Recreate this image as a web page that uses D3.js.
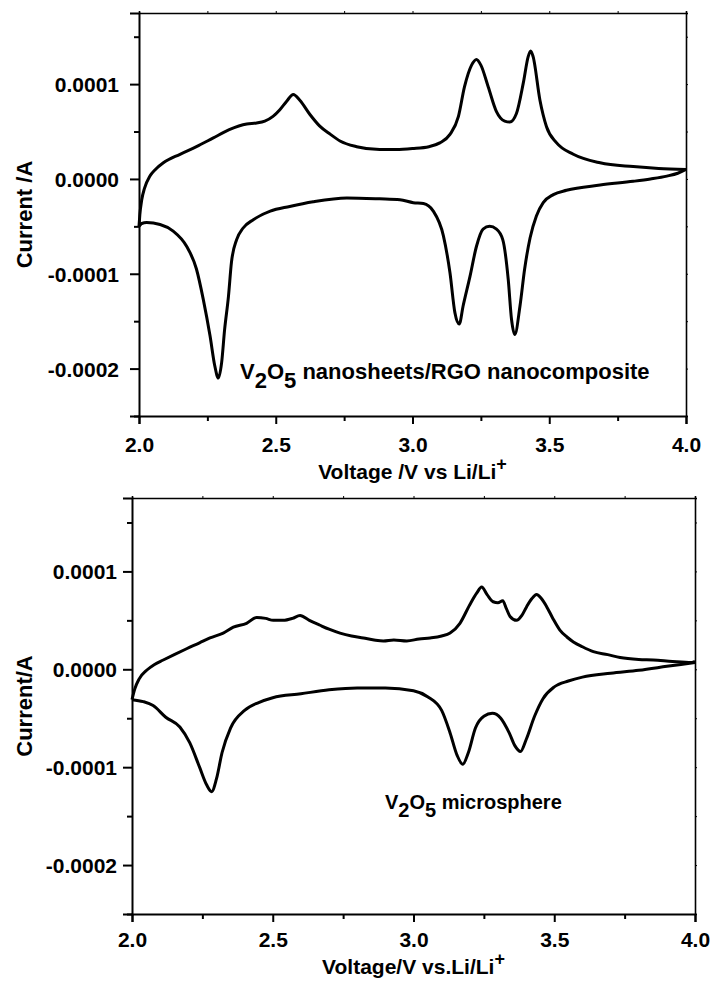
<!DOCTYPE html>
<html>
<head>
<meta charset="utf-8">
<script src="https://cdn.jsdelivr.net/npm/d3@7"></script>
<style>
  html, body { margin: 0; padding: 0; background: #fff; }
  svg { display: block; }
  text { font-family: "Liberation Sans", Arial, sans-serif; font-weight: bold; fill: #000; }
</style>
</head>
<body>
<svg id="fig" width="711" height="983"></svg>
<script>
// Cyclic voltammograms, current in units of 1e-4 A (scaled to A when drawn)

// --- V2O5 nanosheets/RGO nanocomposite ---
const topAnodicV = [2.000, 2.003, 2.010, 2.020, 2.040, 2.060, 2.089, 2.150, 2.210, 2.270, 2.330, 2.394, 2.430, 2.460, 2.490, 2.515, 2.540, 2.564, 2.588, 2.625, 2.660, 2.700, 2.735, 2.796, 2.880, 2.940, 3.000, 3.060, 3.100, 3.137, 3.168, 3.190, 3.216, 3.234, 3.250, 3.277, 3.307, 3.337, 3.356, 3.380, 3.405, 3.423, 3.432, 3.441, 3.466, 3.490, 3.527, 3.588, 3.686, 3.807, 3.900, 4.000];
const topAnodicI = [-0.50, -0.38, -0.22, -0.10, 0.03, 0.10, 0.17, 0.26, 0.34, 0.43, 0.52, 0.58, 0.59, 0.61, 0.66, 0.73, 0.82, 0.89, 0.83, 0.68, 0.56, 0.47, 0.40, 0.34, 0.31, 0.31, 0.32, 0.34, 0.38, 0.47, 0.66, 0.97, 1.20, 1.26, 1.20, 0.97, 0.71, 0.61, 0.60, 0.69, 1.01, 1.29, 1.35, 1.29, 0.83, 0.55, 0.38, 0.26, 0.17, 0.13, 0.11, 0.10];

const topCathodicV = [2.000, 2.010, 2.028, 2.077, 2.125, 2.174, 2.210, 2.235, 2.260, 2.277, 2.290, 2.302, 2.313, 2.327, 2.338, 2.357, 2.380, 2.418, 2.480, 2.551, 2.637, 2.760, 2.880, 2.954, 3.003, 3.040, 3.076, 3.113, 3.137, 3.155, 3.171, 3.185, 3.210, 3.234, 3.258, 3.282, 3.307, 3.330, 3.350, 3.362, 3.374, 3.393, 3.410, 3.430, 3.453, 3.478, 3.515, 3.563, 3.686, 3.807, 3.870, 3.930, 3.970, 4.000];
const topCathodicI = [-0.50, -0.47, -0.46, -0.48, -0.55, -0.71, -0.95, -1.27, -1.66, -1.97, -2.10, -1.94, -1.59, -1.24, -0.88, -0.64, -0.52, -0.43, -0.34, -0.29, -0.24, -0.20, -0.21, -0.22, -0.25, -0.26, -0.34, -0.60, -0.99, -1.41, -1.53, -1.34, -1.03, -0.71, -0.53, -0.50, -0.53, -0.64, -1.06, -1.48, -1.64, -1.34, -0.95, -0.62, -0.39, -0.25, -0.165, -0.12, -0.065, -0.025, 0.00, 0.03, 0.06, 0.10];

// --- V2O5 microsphere ---
const botAnodicV = [2.000, 2.010, 2.025, 2.052, 2.080, 2.111, 2.150, 2.194, 2.240, 2.277, 2.324, 2.360, 2.407, 2.443, 2.475, 2.502, 2.537, 2.570, 2.597, 2.630, 2.668, 2.700, 2.739, 2.780, 2.822, 2.860, 2.893, 2.930, 2.976, 3.020, 3.059, 3.100, 3.130, 3.165, 3.200, 3.225, 3.242, 3.262, 3.283, 3.300, 3.317, 3.330, 3.343, 3.366, 3.385, 3.402, 3.420, 3.437, 3.455, 3.473, 3.495, 3.520, 3.545, 3.568, 3.600, 3.639, 3.690, 3.734, 3.800, 3.852, 3.920, 3.988, 4.000];
const botAnodicI = [-0.31, -0.20, -0.10, -0.01, 0.05, 0.095, 0.15, 0.21, 0.27, 0.32, 0.37, 0.43, 0.47, 0.53, 0.52, 0.50, 0.50, 0.52, 0.55, 0.50, 0.45, 0.41, 0.37, 0.34, 0.32, 0.30, 0.29, 0.30, 0.29, 0.31, 0.32, 0.34, 0.37, 0.47, 0.66, 0.78, 0.84, 0.76, 0.69, 0.68, 0.70, 0.62, 0.54, 0.50, 0.55, 0.64, 0.72, 0.765, 0.72, 0.64, 0.52, 0.40, 0.33, 0.28, 0.23, 0.18, 0.15, 0.12, 0.10, 0.095, 0.08, 0.07, 0.08];

const botCathodicV = [2.000, 2.040, 2.075, 2.120, 2.170, 2.205, 2.240, 2.265, 2.283, 2.300, 2.320, 2.350, 2.400, 2.450, 2.500, 2.600, 2.700, 2.800, 2.900, 3.000, 3.050, 3.100, 3.130, 3.155, 3.175, 3.195, 3.220, 3.250, 3.280, 3.310, 3.340, 3.360, 3.380, 3.400, 3.430, 3.460, 3.500, 3.550, 3.600, 3.700, 3.800, 3.900, 4.000];
const botCathodicI = [-0.31, -0.33, -0.37, -0.49, -0.59, -0.75, -1.00, -1.18, -1.25, -1.12, -0.85, -0.60, -0.42, -0.34, -0.29, -0.25, -0.21, -0.19, -0.19, -0.22, -0.28, -0.42, -0.65, -0.88, -0.97, -0.85, -0.60, -0.48, -0.45, -0.50, -0.65, -0.78, -0.84, -0.72, -0.48, -0.30, -0.18, -0.12, -0.08, -0.04, -0.01, 0.03, 0.07];

// Axis ticks and labels
const xMajor = [2.0, 2.5, 3.0, 3.5, 4.0];
const xMinor = [2.25, 2.75, 3.25, 3.75];
const xTickLabels = ["2.0", "2.5", "3.0", "3.5", "4.0"];
const yMajor = [-0.0002, -0.0001, 0.0, 0.0001];
const yMinor = [-0.00025, -0.00015, -0.00005, 0.00005, 0.00015];
const yTickLabels = ["-0.0002", "-0.0001", "0.0000", "0.0001"];
const xDomain = [2.0, 4.0];
const yDomain = [-0.00025, 0.000175];
const unitA = 1e-4;

const panels = [
  {
    anodic: [topAnodicV, topAnodicI], cathodic: [topCathodicV, topCathodicI],
    box: { left: 139, right: 686, top: 13, bottom: 416 },
    yTitle: "Current /A", yTitleX: 24,
    xTitle: "Voltage /V vs Li/Li", xTitleY: 479,
    tickLabelPad: 11, xLabelY: 452,
    label: { parts: ["V", "2", "O", "5", " nanosheets/RGO nanocomposite"], x: 240, y: 379, size: 22 }
  },
  {
    anodic: [botAnodicV, botAnodicI], cathodic: [botCathodicV, botCathodicI],
    box: { left: 132, right: 695, top: 498, bottom: 914 },
    yTitle: "Current/A", yTitleX: 24,
    xTitle: "Voltage/V vs.Li/Li", xTitleY: 974,
    tickLabelPad: 6, xLabelY: 947,
    label: { parts: ["V", "2", "O", "5", " microsphere"], x: 385, y: 809, size: 20 }
  }
];

const svg = d3.select("#fig");

panels.forEach(p => {
  const b = p.box;
  const x = d3.scaleLinear().domain(xDomain).range([b.left, b.right]);
  const y = d3.scaleLinear().domain(yDomain).range([b.bottom, b.top]);
  const g = svg.append("g");

  // frame: top and right edges with short ticks
  const topAx = g.append("g").attr("transform", `translate(0,${b.top})`)
    .call(d3.axisTop(x).tickValues(xMajor.concat(xMinor)).tickSize(2).tickFormat(""));
  const rightAx = g.append("g").attr("transform", `translate(${b.right},0)`)
    .call(d3.axisRight(y).tickValues(yMajor.concat(yMinor)).tickSize(2).tickFormat(""));
  [topAx, rightAx].forEach(a => {
    a.select(".domain").attr("stroke", "#000").attr("stroke-width", 1.6);
    a.selectAll(".tick line").attr("stroke", "#000").attr("stroke-width", 1);
  });

  // bottom axis
  const xAx = g.append("g").attr("transform", `translate(0,${b.bottom})`)
    .call(d3.axisBottom(x).tickValues(xMajor).tickSize(8)
      .tickFormat((d, i) => xTickLabels[i]).tickPadding(0));
  xAx.append("g").call(d3.axisBottom(x).tickValues(xMinor).tickSize(5).tickFormat(""))
    .select(".domain").remove();
  xAx.selectAll(".tick text").attr("y", p.xLabelY - b.bottom).attr("dy", 0)
    .style("font-size", "21px").style("font-family", "'Liberation Sans', Arial, sans-serif")
    .style("font-weight", "bold").attr("fill", "#000");

  // left axis
  const yAx = g.append("g").attr("transform", `translate(${b.left},0)`)
    .call(d3.axisLeft(y).tickValues(yMajor).tickSize(9)
      .tickFormat((d, i) => yTickLabels[i]).tickPadding(p.tickLabelPad));
  yAx.append("g").call(d3.axisLeft(y).tickValues(yMinor).tickSize(5).tickFormat(""))
    .select(".domain").remove();
  yAx.selectAll(".tick text").attr("dy", "0.36em")
    .style("font-size", "21px").style("font-family", "'Liberation Sans', Arial, sans-serif")
    .style("font-weight", "bold").attr("fill", "#000");

  [xAx, yAx].forEach(a => {
    a.selectAll(".domain").attr("stroke", "#000").attr("stroke-width", 2);
    a.selectAll(".tick line").attr("stroke", "#000").attr("stroke-width", 2);
  });

  // CV loop
  const line = d3.line().x(d => x(d[0])).y(d => y(d[1] * unitA)).curve(d3.curveMonotoneX);
  [p.anodic, p.cathodic].forEach(([vs, is]) => {
    g.append("path")
      .datum(vs.map((v, i) => [v, is[i]]))
      .attr("d", line)
      .attr("fill", "none").attr("stroke", "#000")
      .attr("stroke-width", 3).attr("stroke-linejoin", "round");
  });

  // axis titles
  g.append("text")
    .attr("transform", `translate(${p.yTitleX},${(b.top + b.bottom) / 2}) rotate(-90)`)
    .attr("text-anchor", "middle").attr("dy", "0.36em")
    .style("font-size", "22px").text(p.yTitle);

  const xt = g.append("text")
    .attr("x", (b.left + b.right) / 2).attr("y", p.xTitleY)
    .attr("text-anchor", "middle").style("font-size", "21px");
  xt.append("tspan").text(p.xTitle);
  xt.append("tspan").attr("dy", "-0.5em").style("font-size", "18px").text("+");

  // sample label with subscripts
  const lab = g.append("text").attr("x", p.label.x).attr("y", p.label.y)
    .style("font-size", p.label.size + "px");
  const shift = 0.4;
  p.label.parts.forEach((t, i) => {
    const sub = i === 1 || i === 3;
    const dy = i === 0 ? 0 : (sub ? shift : -shift);
    lab.append("tspan").attr("dy", dy + "em").text(t);
  });
});
</script>
</body>
</html>
